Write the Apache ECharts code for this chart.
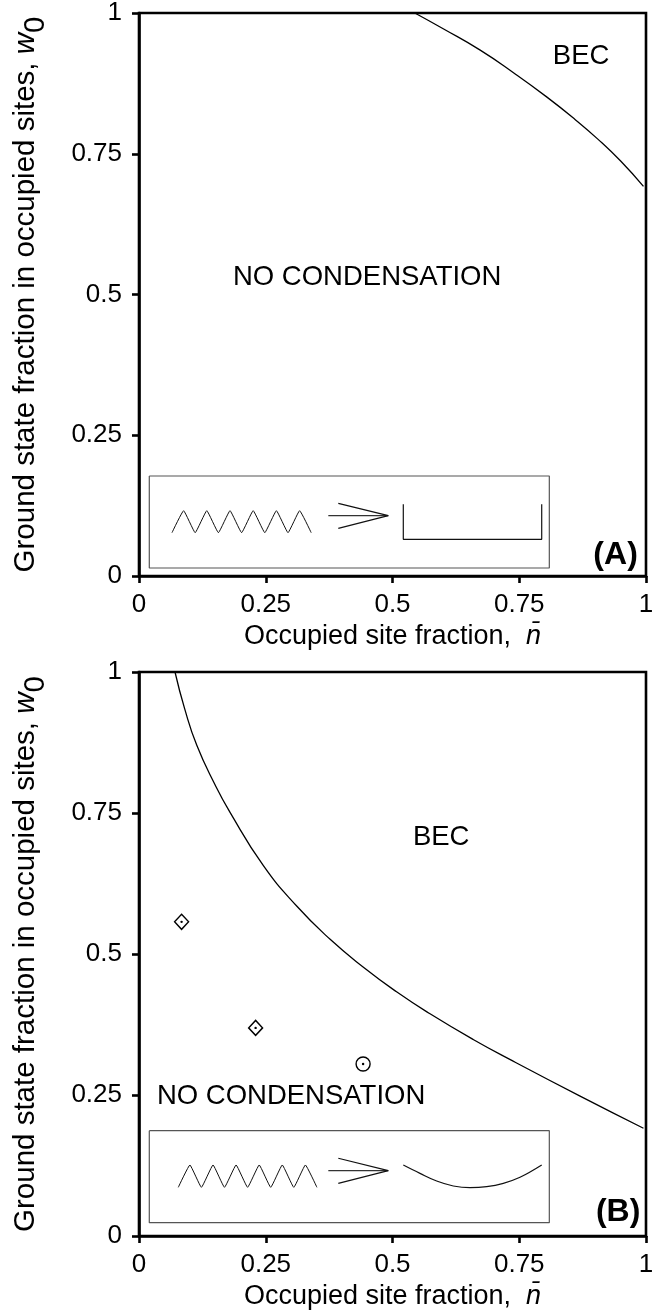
<!DOCTYPE html>
<html><head><meta charset="utf-8">
<script src="https://cdn.jsdelivr.net/npm/echarts@6/dist/echarts.min.js"></script>
<style>html,body{margin:0;padding:0;background:#fff}#c{width:658px;height:1315px}</style>
</head><body><div id="c"></div>
<script>
const F = 'Liberation Sans, Arial, Helvetica, sans-serif';
const tickLabels = ['0', '0.25', '0.5', '0.75', '1'];

// Panel A phase boundary
const curveA_n = [0.544, 0.600, 0.673, 0.740, 0.804, 0.860, 0.905, 0.950, 0.995];
const curveA_w = [1.000, 0.972, 0.934, 0.893, 0.851, 0.811, 0.776, 0.737, 0.692];
// Panel B phase boundary
const curveB_n = [0.071, 0.090, 0.114, 0.150, 0.179, 0.245, 0.311, 0.377, 0.442, 0.508, 0.574, 0.660, 0.738, 0.870, 0.995];
const curveB_w = [1.000, 0.935, 0.870, 0.800, 0.752, 0.657, 0.585, 0.526, 0.477, 0.433, 0.394, 0.348, 0.310, 0.248, 0.191];
// Panel B experimental points
const diamonds_n = [0.084, 0.230];
const diamonds_w = [0.557, 0.369];
const circles_n = [0.442];
const circles_w = [0.305];

// Inset schematics (data coordinates)
const boxA_n = [0.0203, 0.8093, 0.8093, 0.0203, 0.0203];
const boxA_w = [0.1776, 0.1776, 0.0142, 0.0142, 0.1776];
const springA_n = [0.0651, 0.0880, 0.1108, 0.1337, 0.1566, 0.1795, 0.2024, 0.2252, 0.2481, 0.2710, 0.2939, 0.3168, 0.3396];
const springA_w = [0.077, 0.116, 0.077, 0.116, 0.077, 0.116, 0.077, 0.116, 0.077, 0.116, 0.077, 0.116, 0.077];
const arrowShaftA_n = [0.3734, 0.4917];
const arrowShaftA_w = [0.1071, 0.1071];
const arrowHeadA_n = [0.3931, 0.4917, 0.3931];
const arrowHeadA_w = [0.1291, 0.1071, 0.0847];
const wellA_n = [0.5213, 0.5213, 0.7943, 0.7943];
const wellA_w = [0.1274, 0.0652, 0.0652, 0.1274];

const boxB_n = [0.0203, 0.8093, 0.8093, 0.0203, 0.0203];
const boxB_w = [0.1867, 0.1867, 0.0236, 0.0236, 0.1867];
const springB_n = [0.0775, 0.1004, 0.1231, 0.1460, 0.1686, 0.1915, 0.2142, 0.2371, 0.2598, 0.2826, 0.3053, 0.3282, 0.3509];
const springB_w = [0.0863, 0.1259, 0.0863, 0.1259, 0.0863, 0.1259, 0.0863, 0.1259, 0.0863, 0.1259, 0.0863, 0.1259, 0.0863];
const arrowShaftB_n = [0.3734, 0.4917];
const arrowShaftB_w = [0.1158, 0.1158];
const arrowHeadB_n = [0.3931, 0.4917, 0.3931];
const arrowHeadB_w = [0.1378, 0.1158, 0.0934];
const wellB_n = [0.5213, 0.5542, 0.5871, 0.6199, 0.6529, 0.6858, 0.7186, 0.7515, 0.7943];
const wellB_w = [0.1259, 0.1111, 0.0975, 0.0887, 0.0856, 0.0874, 0.0934, 0.1041, 0.1259];

// Annotations
const textsA = ['BEC', 'NO CONDENSATION'];
const textsA_n = [0.872, 0.45];
const textsA_w = [0.922, 0.53];
const textsB = ['BEC', 'NO CONDENSATION'];
const textsB_n = [0.596, 0.300];
const textsB_w = [0.706, 0.247];
const panelLabels = ['(A)', '(B)'];
const panelLabels_n = [0.940, 0.945];
const panelLabels_w = [0.037, 0.042];

const zip = (a, b) => a.map((v, i) => [v, b[i]]);

function xAx(gi) {
  return {
    type: 'value', gridIndex: gi, min: 0, max: 1, interval: 0.25,
    name: '{a|Occupied site fraction,  }{n|n\u0304}',
    nameLocation: 'middle', nameGap: 47,
    nameTextStyle: { rich: {
      a: { fontFamily: F, fontSize: 27, color: '#000' },
      n: { fontFamily: F, fontSize: 27, fontStyle: 'italic', color: '#000' }
    } },
    axisLine: { show: true, onZero: false, lineStyle: { color: '#000', width: 2.6 } },
    axisTick: { show: true, length: 7, lineStyle: { color: '#000', width: 2.6 } },
    axisLabel: { margin: 16, fontFamily: F, fontSize: 26, color: '#000', showMinLabel: true, showMaxLabel: true,
      formatter: v => tickLabels[Math.round(v * 4)] },
    splitLine: { show: false }
  };
}
function yAx(gi) {
  return {
    type: 'value', gridIndex: gi, min: 0, max: 1, interval: 0.25,
    name: '{a|Ground state fraction in occupied sites, }{w|w}{s|0}',
    nameLocation: 'middle', nameGap: 88,
    nameTextStyle: { rich: {
      a: { fontFamily: F, fontSize: 29.5, lineHeight: 30, verticalAlign: 'top', color: '#000' },
      w: { fontFamily: F, fontSize: 29.5, lineHeight: 30, verticalAlign: 'top', fontStyle: 'italic', color: '#000' },
      s: { fontFamily: F, fontSize: 29.5, lineHeight: 40, verticalAlign: 'bottom', color: '#000' }
    } },
    axisLine: { show: true, onZero: false, lineStyle: { color: '#000', width: 2.6 } },
    axisTick: { show: true, length: 7, lineStyle: { color: '#000', width: 2.6 } },
    axisLabel: { margin: 17, fontFamily: F, fontSize: 26, color: '#000', showMinLabel: true, showMaxLabel: true,
      formatter: v => tickLabels[Math.round(v * 4)] },
    splitLine: { show: false }
  };
}
function line(gi, n, w, opts) {
  return Object.assign({
    type: 'line', xAxisIndex: gi, yAxisIndex: gi, data: zip(n, w),
    symbol: 'none', showSymbol: false, silent: true, animation: false,
    lineStyle: { color: '#000', width: 1.3 }, z: 3
  }, opts || {});
}
function texts(gi, t, n, w, style) {
  return {
    type: 'scatter', xAxisIndex: gi, yAxisIndex: gi, silent: true, animation: false,
    symbolSize: 0, itemStyle: { color: '#000', opacity: 1 }, z: 5,
    data: t.map((s, i) => ({ value: [n[i], w[i]], label: { formatter: s } })),
    label: Object.assign({ show: true, position: 'inside', fontFamily: F, color: '#000',
      opacity: 1, textBorderWidth: 0, textShadowBlur: 0 }, style)
  };
}

const chart = echarts.init(document.getElementById('c'), null, { renderer: 'canvas' });
chart.setOption({
  backgroundColor: '#fff',
  animation: false,
  grid: [
    { left: 139, top: 13, width: 507, height: 563, show: true, borderColor: '#000', borderWidth: 2.6, backgroundColor: 'transparent' },
    { left: 139, top: 672, width: 507, height: 564, show: true, borderColor: '#000', borderWidth: 2.6, backgroundColor: 'transparent' }
  ],
  xAxis: [xAx(0), xAx(1)],
  yAxis: [yAx(0), yAx(1)],
  series: [
    line(0, curveA_n, curveA_w, { smooth: 0.5 }),
    line(1, curveB_n, curveB_w, { smooth: 0.5 }),
    line(0, boxA_n, boxA_w, { lineStyle: { color: '#555', width: 1.2 } }),
    line(0, springA_n, springA_w, { smooth: 0.1, lineStyle: { color: '#111', width: 1 } }),
    line(0, arrowShaftA_n, arrowShaftA_w, { lineStyle: { color: '#333', width: 1.2 } }),
    line(0, arrowHeadA_n, arrowHeadA_w, { lineStyle: { color: '#111', width: 1.2 } }),
    line(0, wellA_n, wellA_w, { lineStyle: { color: '#111', width: 1.2 } }),
    line(1, boxB_n, boxB_w, { lineStyle: { color: '#555', width: 1.2 } }),
    line(1, springB_n, springB_w, { smooth: 0.1, lineStyle: { color: '#111', width: 1 } }),
    line(1, arrowShaftB_n, arrowShaftB_w, { lineStyle: { color: '#333', width: 1.2 } }),
    line(1, arrowHeadB_n, arrowHeadB_w, { lineStyle: { color: '#111', width: 1.2 } }),
    line(1, wellB_n, wellB_w, { smooth: 0.4, lineStyle: { color: '#111', width: 1.2 } }),
    {
      type: 'scatter', xAxisIndex: 1, yAxisIndex: 1, silent: true, animation: false, z: 4,
      symbol: 'diamond', symbolSize: [14, 15], data: zip(diamonds_n, diamonds_w),
      itemStyle: { color: '#fff', borderColor: '#000', borderWidth: 1.4, opacity: 1 }
    },
    {
      type: 'scatter', xAxisIndex: 1, yAxisIndex: 1, silent: true, animation: false, z: 4,
      symbol: 'circle', symbolSize: 14, data: zip(circles_n, circles_w),
      itemStyle: { color: '#fff', borderColor: '#000', borderWidth: 1.4, opacity: 1 }
    },
    {
      type: 'scatter', xAxisIndex: 1, yAxisIndex: 1, silent: true, animation: false, z: 6,
      symbol: 'circle', symbolSize: 2.4, data: zip(diamonds_n.concat(circles_n), diamonds_w.concat(circles_w)),
      itemStyle: { color: '#000', opacity: 1 }
    },
    texts(0, textsA, textsA_n, textsA_w, { fontSize: 27.5 }),
    texts(1, textsB, textsB_n, textsB_w, { fontSize: 27.5 }),
    texts(0, [panelLabels[0]], [panelLabels_n[0]], [panelLabels_w[0]], { fontSize: 32, fontWeight: 'bold' }),
    texts(1, [panelLabels[1]], [panelLabels_n[1]], [panelLabels_w[1]], { fontSize: 32, fontWeight: 'bold' })
  ]
});
</script>
</body></html>
